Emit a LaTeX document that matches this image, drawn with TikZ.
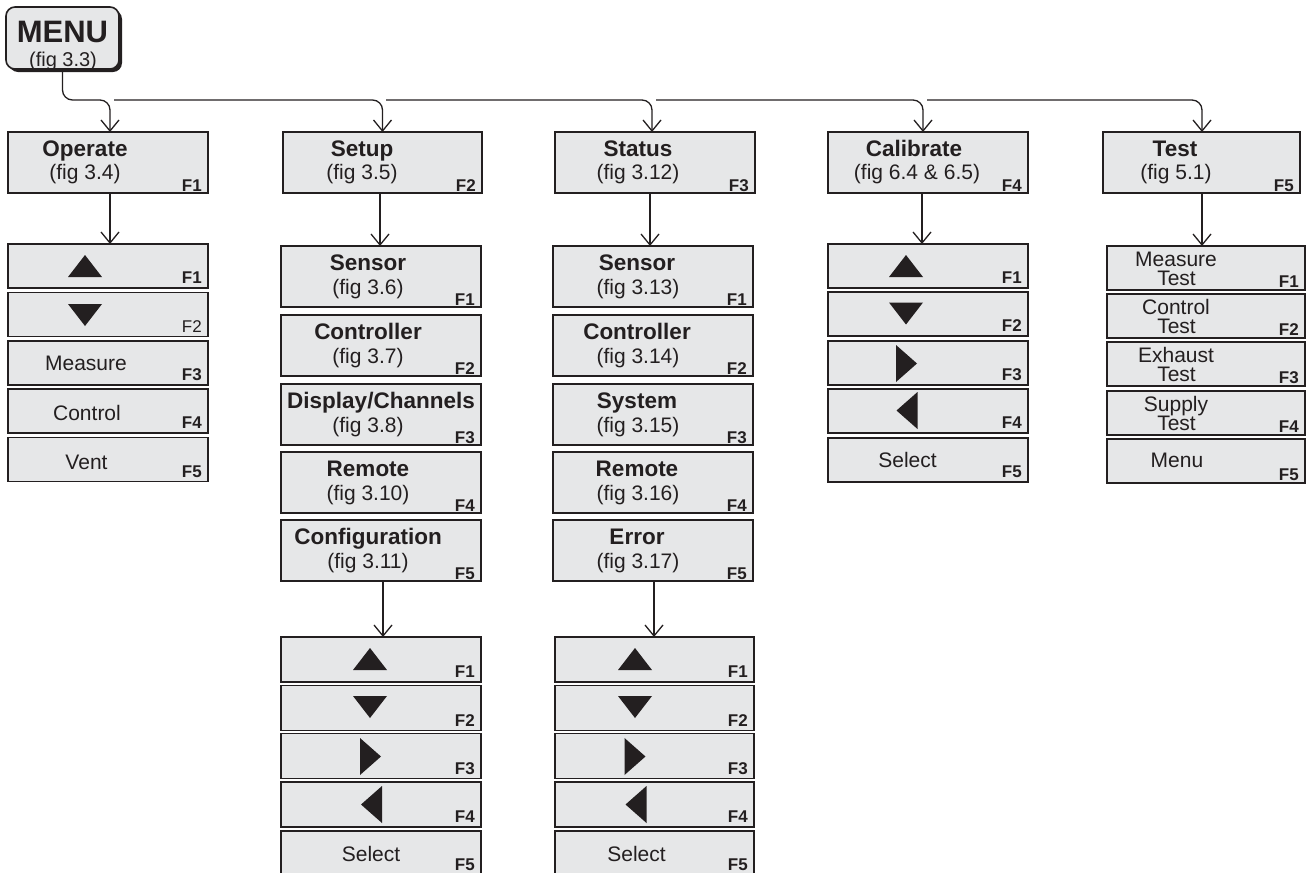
\documentclass[tikz,border=0pt]{standalone}
\usepackage{fontspec}
\setmainfont{Liberation Sans}
\usetikzlibrary{arrows.meta,shadows}
\definecolor{ink}{RGB}{35,31,32}
\definecolor{boxfill}{RGB}{230,231,232}
\newcommand\triup[2]{\fill[ink] (#1-17,#2+11) -- (#1+17,#2+11) -- (#1,#2-11) -- cycle;}
\newcommand\tridown[2]{\fill[ink] (#1-17,#2-11) -- (#1+17,#2-11) -- (#1,#2+11) -- cycle;}
\newcommand\triright[2]{\fill[ink] (#1-10.5,#2-18.5) -- (#1-10.5,#2+18.5) -- (#1+10.5,#2) -- cycle;}
\newcommand\trileft[2]{\fill[ink] (#1+10.5,#2-18.5) -- (#1+10.5,#2+18.5) -- (#1-10.5,#2) -- cycle;}
\begin{document}
\begin{tikzpicture}[x=1pt,y=-1pt,
  bx/.style={draw=ink, line width=1.6pt, fill=boxfill, inner sep=0pt, outer sep=0pt},
  tb/.style={bx, minimum width=200pt, minimum height=61pt},
  lb/.style={bx, minimum width=200pt, minimum height=44pt},
  ttl/.style={anchor=base, inner sep=0pt, text=ink, font=\fontsize{22.5}{22.5}\selectfont\bfseries},
  fig/.style={anchor=base, inner sep=0pt, text=ink, font=\fontsize{21}{21}\selectfont},
  fb/.style={anchor=base east, inner sep=0pt, text=ink, font=\fontsize{17}{17}\selectfont\bfseries},
  fr/.style={anchor=base east, inner sep=0pt, text=ink, font=\fontsize{17}{17}\selectfont},
  conn/.style={draw=ink, line width=1.3pt, -{Straight Barb[length=11pt,width=18pt,line width=1.3pt]}},
]
\useasboundingbox (0,0) rectangle (1310,873);

% ---------- MENU ----------
\node[bx, rounded corners=9pt, minimum width=113pt, minimum height=62pt,
  drop shadow={shadow xshift=3pt, shadow yshift=-3pt, fill=ink, opacity=1}] (menu) at (62.5,38) {};
\node[ttl, font=\fontsize{31}{31}\selectfont\bfseries] (menuT) at (62.5,42) {MENU};
\node[fig, font=\fontsize{20}{20}\selectfont] (menuG) at (63,66) {(fig 3.3)};

% ---------- top level ----------
\node[tb] (op) at (108,162.5) {};
\node[ttl] (opT) at (85,156) {Operate};
\node[fig] (opG) at (85,179) {(fig 3.4)};
\node[fb] (opF) at ([xshift=-6pt,yshift=1.5pt]op.south east) {F1};

\node[tb, minimum width=199pt] (su) at (382.5,162.5) {};
\node[ttl] (suT) at (362,156) {Setup};
\node[fig] (suG) at (362,179) {(fig 3.5)};
\node[fb] (suF) at ([xshift=-6pt,yshift=1.5pt]su.south east) {F2};

\node[tb] (st) at (655,162.5) {};
\node[ttl] (stT) at (638,156) {Status};
\node[fig] (stG) at (638,179) {(fig 3.12)};
\node[fb] (stF) at ([xshift=-6pt,yshift=1.5pt]st.south east) {F3};

\node[tb] (ca) at (928,162.5) {};
\node[ttl] (caT) at (914,156) {Calibrate};
\node[fig] (caG) at (917,179) {(fig 6.4 \& 6.5)};
\node[fb] (caF) at ([xshift=-6pt,yshift=1.5pt]ca.south east) {F4};

\node[tb, minimum width=197pt] (te) at (1201.5,162.5) {};
\node[ttl] (teT) at (1175,156) {Test};
\node[fig] (teG) at (1176,179) {(fig 5.1)};
\node[fb] (teF) at ([xshift=-6pt,yshift=1.5pt]te.south east) {F5};

% ---------- top connectors ----------
\coordinate (j0) at (110,100);
\coordinate (h1) at (114,100);
\coordinate (h2) at (386,100);
\coordinate (h3) at (656,100);
\coordinate (h4) at (927,100);
\draw[conn, rounded corners=10pt] (menu.south) |- (j0) -- ([xshift=2pt]op.north);
\draw[conn, rounded corners=10pt] (h1) -| (su.north);
\draw[conn, rounded corners=10pt] (h2) -| ([xshift=-3pt]st.north);
\draw[conn, rounded corners=10pt] (h3) -| ([xshift=-5pt]ca.north);
\draw[conn, rounded corners=10pt] (h4) -| ([xshift=0.5pt]te.north);

% ---------- Operate list ----------
\node[lb] (op1) at (108,266) {};
\node[lb] (op2) at (108,314.5) {};
\node[lb] (op3) at (108,363) {};
\node[lb] (op4) at (108,411) {};
\node[lb] (op5) at (108,459.5) {};
\triup{85}{266}
\tridown{85}{315}
\node[fig] (op3T) at (86,370) {Measure};
\node[fig] (op4T) at (87,420) {Control};
\node[fig] (op5T) at (86.5,469) {Vent};
\node[fb] (op1F) at ([xshift=-6pt,yshift=4.5pt]op1.south east) {F1};
\node[fr] (op2F) at ([xshift=-6pt,yshift=4.5pt]op2.south east) {F2};
\node[fb] (op3F) at ([xshift=-6pt,yshift=4.5pt]op3.south east) {F3};
\node[fb] (op4F) at ([xshift=-6pt,yshift=4.5pt]op4.south east) {F4};
\node[fb] (op5F) at ([xshift=-6pt,yshift=4.5pt]op5.south east) {F5};
\draw[conn] ([xshift=2pt]op.south) -- ([xshift=2pt]op.south |- op1.north);

% ---------- Setup second level ----------
\foreach \i/\yc/\tt/\ff/\tx in {1/276.5/Sensor/3.6/368, 2/345.5/Controller/3.7/368, 3/414.5/Display\slash Channels/3.8/381, 4/482.5/Remote/3.10/368, 5/550.5/Configuration/3.11/368}{
  \node[tb] (su\i) at (381,\yc) {};
  \node[ttl] (su\i T) at (\tx,\yc-6.5) {\tt};
  \node[fig] (su\i G) at (368,\yc+17.5) {(fig \ff)};
  \node[fb] (su\i F) at ([xshift=-6pt,yshift=1.5pt]su\i.south east) {F\i};
}
\draw[conn] ([xshift=-2.5pt]su.south) -- ([xshift=-2.5pt]su.south |- su1.north);

% ---------- Status second level ----------
\foreach \i/\yc/\tt/\ff in {1/276.5/Sensor/3.13, 2/345.5/Controller/3.14, 3/414.5/System/3.15, 4/482.5/Remote/3.16, 5/550.5/Error/3.17}{
  \node[tb] (st\i) at (653,\yc) {};
  \node[ttl] (st\i T) at (637,\yc-6.5) {\tt};
  \node[fig] (st\i G) at (638,\yc+17.5) {(fig \ff)};
  \node[fb] (st\i F) at ([xshift=-6pt,yshift=1.5pt]st\i.south east) {F\i};
}
\draw[conn] ([xshift=-5pt]st.south) -- ([xshift=-5pt]st.south |- st1.north);

% ---------- Setup third level ----------
\node[lb, minimum height=45pt] (sl1) at (381,659.5) {};
\node[lb, minimum height=45pt] (sl2) at (381,708) {};
\node[lb, minimum height=45pt] (sl3) at (381,756) {};
\node[lb, minimum height=45pt] (sl4) at (381,804.5) {};
\node[lb, minimum height=49pt] (sl5) at (381,855.5) {};
\triup{370}{659}
\tridown{370}{707}
\triright{370.5}{756.5}
\trileft{371.5}{804.5}
\node[fig] (sl5T) at (371,861) {Select};
\foreach \i in {1,2,3,4}{\node[fb] (sl\i F) at ([xshift=-6pt,yshift=4.5pt]sl\i.south east) {F\i};}
\node[fb] (sl5F) at ([xshift=-6pt,yshift=10pt]sl5.south east) {F5};
\draw[conn] ([xshift=2pt]su5.south) -- ([xshift=2pt]su5.south |- sl1.north);

% ---------- Status third level ----------
\node[lb, minimum width=199pt, minimum height=45pt] (tl1) at (654.5,659.5) {};
\node[lb, minimum width=199pt, minimum height=45pt] (tl2) at (654.5,708) {};
\node[lb, minimum width=199pt, minimum height=45pt] (tl3) at (654.5,756) {};
\node[lb, minimum width=199pt, minimum height=45pt] (tl4) at (654.5,804.5) {};
\node[lb, minimum width=199pt, minimum height=49pt] (tl5) at (654.5,855.5) {};
\triup{635}{659}
\tridown{635}{707}
\triright{635}{756.5}
\trileft{636}{804.5}
\node[fig] (tl5T) at (636.5,861) {Select};
\foreach \i in {1,2,3,4}{\node[fb] (tl\i F) at ([xshift=-6pt,yshift=4.5pt]tl\i.south east) {F\i};}
\node[fb] (tl5F) at ([xshift=-6pt,yshift=10pt]tl5.south east) {F5};
\draw[conn] ([xshift=1pt]st5.south) -- ([xshift=1pt]st5.south |- tl1.north);

% ---------- Calibrate list ----------
\node[lb] (cl1) at (928,266) {};
\node[lb] (cl2) at (928,314) {};
\node[lb] (cl3) at (928,363) {};
\node[lb] (cl4) at (928,411) {};
\node[lb] (cl5) at (928,460) {};
\triup{906}{266}
\tridown{906}{313.5}
\triright{906.5}{363.5}
\trileft{907}{410.5}
\node[fig] (cl5T) at (907.5,467) {Select};
\foreach \i in {1,2,3,4,5}{\node[fb] (cl\i F) at ([xshift=-6pt,yshift=4.5pt]cl\i.south east) {F\i};}
\draw[conn] ([xshift=-6pt]ca.south) -- ([xshift=-6pt]ca.south |- cl1.north);

% ---------- Test list ----------
\foreach \i/\yt/\wa in {1/246/Measure, 2/294/Control, 3/342/Exhaust, 4/391/Supply}{
  \node[lb, minimum width=198pt, anchor=north] (tt\i) at (1206,\yt) {};
  \node[fig] (tt\i A) at (1176,\yt+20) {\wa};
  \node[fig] (tt\i B) at (1176.5,\yt+39.5) {Test};
  \node[fb] (tt\i F) at ([xshift=-6pt,yshift=3pt]tt\i.south east) {F\i};
}
\node[lb, minimum width=198pt, anchor=north] (tt5) at (1206,439) {};
\node[fig] (tt5T) at (1177,467) {Menu};
\node[fb] (tt5F) at ([xshift=-6pt,yshift=3pt]tt5.south east) {F5};
\draw[conn] ([xshift=0.5pt]te.south) -- ([xshift=0.5pt]te.south |- tt1.north);
\end{tikzpicture}
\end{document}
